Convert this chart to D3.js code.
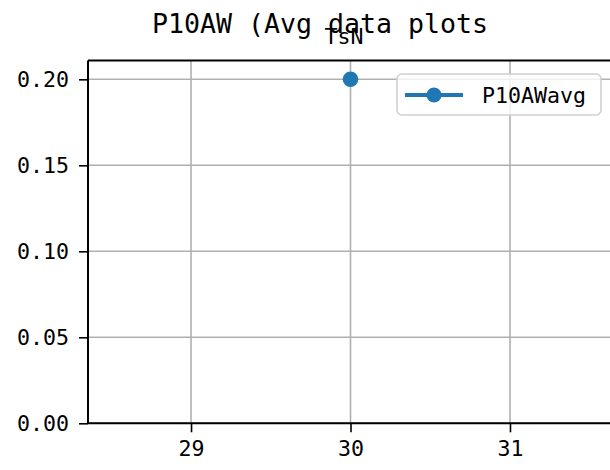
<!DOCTYPE html>
<html>
<head>
<meta charset="utf-8">
<script src="https://cdn.jsdelivr.net/npm/d3@7/dist/d3.min.js"></script>
<style>
  html, body { margin: 0; padding: 0; background: #fff; }
  svg { display: block; }
  text { font-family: "DejaVu Sans Mono", "Liberation Mono", monospace; fill: #000; }
</style>
</head>
<body>
<svg id="chart" width="610" height="470"></svg>
<script>
// Data
const xValues = [30];
const yValues = [0.2];
const seriesName = "P10AWavg";
const xTicks = [29, 30, 31];
const yTicks = [0.00, 0.05, 0.10, 0.15, 0.20];
const figTitle = "P10AW (Avg data plots";
const axTitle = "TsN";

const svg = d3.select("#chart");
const plot = { left: 88, right: 613, top: 60.4, bottom: 423.3 };

const x = d3.scaleLinear().domain([30 - 1.646, 30 + 1.646]).range([plot.left, plot.right]);
const y = d3.scaleLinear().domain([0, 0.211]).range([plot.bottom, plot.top]);

const monoFont = "DejaVu Sans Mono, Liberation Mono, monospace";
const tickFont = 21.6;
const blue = "#1f77b4";

// Grid
const grid = svg.append("g");
grid.selectAll("line.gx").data(xTicks).join("line")
  .attr("x1", d => x(d)).attr("x2", d => x(d))
  .attr("y1", plot.top).attr("y2", plot.bottom)
  .attr("stroke", "#b0b0b0").attr("stroke-width", 1.6);
grid.selectAll("line.gy").data(yTicks).join("line")
  .attr("x1", plot.left).attr("x2", plot.right)
  .attr("y1", d => y(d)).attr("y2", d => y(d))
  .attr("stroke", "#b0b0b0").attr("stroke-width", 1.6);

// Axes
const xAxis = d3.axisBottom(x).tickValues(xTicks).tickFormat(d3.format("d"))
  .tickSizeInner(9).tickSizeOuter(0).tickPadding(8);
const yAxis = d3.axisLeft(y).tickValues(yTicks).tickFormat(d3.format(".2f"))
  .tickSizeInner(9).tickSizeOuter(0).tickPadding(10);

const gx = svg.append("g").attr("transform", `translate(0,${plot.bottom})`).call(xAxis);
const gy = svg.append("g").attr("transform", `translate(${plot.left},0)`).call(yAxis);
[gx, gy].forEach(g => {
  g.select(".domain").remove();
  g.selectAll(".tick line").attr("stroke", "#000").attr("stroke-width", 1.6);
  g.selectAll(".tick text").attr("font-size", tickFont)
    .attr("font-family", monoFont).attr("fill", "#000");
});

// Spines
const spines = svg.append("g").attr("stroke", "#000").attr("stroke-width", 2).attr("fill", "none");
spines.append("line").attr("x1", plot.left).attr("x2", plot.left).attr("y1", plot.top).attr("y2", plot.bottom);
spines.append("line").attr("x1", plot.left).attr("x2", plot.right).attr("y1", plot.bottom).attr("y2", plot.bottom);
spines.append("line").attr("x1", plot.left).attr("x2", plot.right).attr("y1", plot.top).attr("y2", plot.top);
spines.append("line").attr("x1", plot.right).attr("x2", plot.right).attr("y1", plot.top).attr("y2", plot.bottom);

// Series line + markers
const pts = xValues.map((v, i) => [v, yValues[i]]);
svg.append("path").datum(pts)
  .attr("d", d3.line().x(d => x(d[0])).y(d => y(d[1])))
  .attr("fill", "none").attr("stroke", blue).attr("stroke-width", 4);
svg.append("g").selectAll("circle").data(pts).join("circle")
  .attr("cx", d => x(d[0])).attr("cy", d => y(d[1])).attr("r", 7.8)
  .attr("fill", blue);

// Legend
const lg = svg.append("g");
lg.append("rect").attr("x", 397).attr("y", 74).attr("width", 204).attr("height", 41)
  .attr("rx", 5).attr("fill", "#fff").attr("fill-opacity", 0.8)
  .attr("stroke", "#d0d0d0").attr("stroke-width", 1.6);
lg.append("line").attr("x1", 405).attr("x2", 463).attr("y1", 95).attr("y2", 95)
  .attr("stroke", blue).attr("stroke-width", 4);
lg.append("circle").attr("cx", 434).attr("cy", 95).attr("r", 7.6).attr("fill", blue);
lg.append("text").attr("x", 482).attr("y", 103).attr("font-size", tickFont)
  .attr("font-family", monoFont).text(seriesName);

// Titles
svg.append("text").attr("x", 320).attr("y", 33).attr("text-anchor", "middle")
  .attr("font-family", monoFont).attr("font-size", 26.6).text(figTitle);
svg.append("text").attr("x", 344).attr("y", 43.5).attr("text-anchor", "middle")
  .attr("font-family", monoFont).attr("font-size", tickFont).text(axTitle);
</script>
</body>
</html>
